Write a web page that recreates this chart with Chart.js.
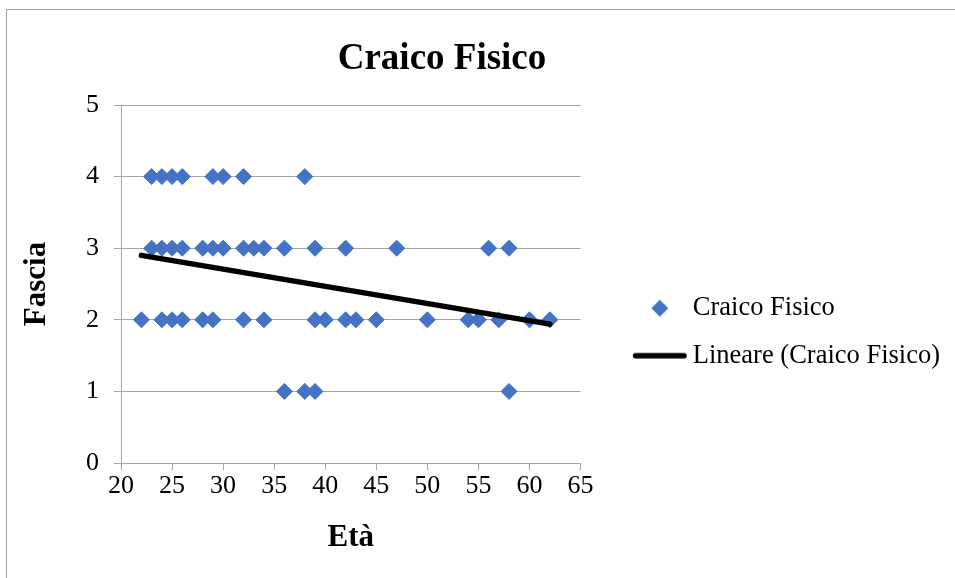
<!DOCTYPE html>
<html>
<head>
<meta charset="utf-8">
<script src="https://cdn.jsdelivr.net/npm/chart.js@4.4.0/dist/chart.umd.min.js"></script>
<style>
  html, body { margin: 0; padding: 0; background: #fff; }
</style>
</head>
<body>
<canvas id="myChart" width="955" height="578"></canvas>
<script>
// age of each person and the "fascia" they fall in
const eta = [
  23, 24, 25, 26, 29, 30, 32, 38,
  23, 24, 25, 26, 28, 29, 30, 32, 33, 34, 36, 39, 42, 47, 56, 58,
  22, 24, 25, 26, 28, 29, 32, 34, 39, 40, 42, 43, 45, 50, 54, 55, 57, 60, 62,
  36, 38, 39, 58
];
const fascia = [
  4, 4, 4, 4, 4, 4, 4, 4,
  3, 3, 3, 3, 3, 3, 3, 3, 3, 3, 3, 3, 3, 3, 3, 3,
  2, 2, 2, 2, 2, 2, 2, 2, 2, 2, 2, 2, 2, 2, 2, 2, 2, 2, 2,
  1, 1, 1, 1
];

// linear trend line (start and end)
const trendEta = [22, 62];
const trendFascia = [2.90, 1.94];

// axis ticks
const xTicks = [20, 25, 30, 35, 40, 45, 50, 55, 60, 65];
const yTicks = [0, 1, 2, 3, 4, 5];

const blue = '#4472C4';
const gridGrey = '#a6a6a6';
const serif = '"Liberation Serif", "Times New Roman", serif';

const legendFont = 26.5;
const legendBoxW = 78;
const legendPad = 21;

// legend icons: the box is centred in legendBoxW, the text starts fontSize/2 after it
function legendIcon(kind) {
  const half = legendBoxW / 2 + legendFont / 2 - 6;
  const c = document.createElement('canvas');
  c.width = Math.round(half * 2);
  c.height = 20;
  const g = c.getContext('2d');
  const mid = c.width / 2;
  const textAt = legendBoxW / 2 + legendFont / 2;
  if (kind === 'line') {
    g.strokeStyle = '#000';
    g.lineWidth = 5.5;
    g.lineCap = 'round';
    g.beginPath();
    g.moveTo(mid + textAt - 60 + 2.75, 10);
    g.lineTo(mid + textAt - 6 - 2.75, 10);
    g.stroke();
  } else {
    const cx = mid + textAt - 33;
    const r = 8.5;
    g.fillStyle = blue;
    g.beginPath();
    g.moveTo(cx - r, 10);
    g.lineTo(cx, 10 - r);
    g.lineTo(cx + r, 10);
    g.lineTo(cx, 10 + r);
    g.closePath();
    g.fill();
  }
  return c;
}
const diamondIcon = legendIcon('diamond');
const lineIcon = legendIcon('line');

const points = eta.map((x, i) => ({x: x, y: fascia[i]}));
const trend = trendEta.map((x, i) => ({x: x, y: trendFascia[i]}));

// white background, grey frame, and title / legend placement
const plugin = {
  id: 'frameAndPlacement',
  beforeDraw: (chart) => {
    const {ctx} = chart;
    ctx.save();
    ctx.fillStyle = '#fff';
    ctx.fillRect(0, 0, chart.width, chart.height);
    ctx.strokeStyle = '#a0a0a0';
    ctx.lineWidth = 1;
    ctx.strokeRect(6.5, 9.5, chart.width + 10, chart.height + 10);
    ctx.restore();
  },
  afterLayout: (chart) => {
    chart.titleBlock.left = 0;
    chart.titleBlock.right = 884;
    chart.legend.top += 86;
  }
};

Chart.defaults.font.family = serif;
Chart.defaults.color = '#000';

const config = {
  type: 'scatter',
  data: {
    datasets: [{
      label: 'Craico Fisico',
      data: points,
      pointStyle: 'rectRot',
      pointRadius: 8,
      pointHoverRadius: 8,
      backgroundColor: blue,
      borderColor: blue,
      borderWidth: 1,
      order: 1
    },
    {
      label: 'Lineare (Craico Fisico)',
      data: trend,
      showLine: true,
      borderColor: '#000',
      backgroundColor: '#000',
      borderWidth: 5.5,
      borderCapStyle: 'round',
      pointRadius: 0,
      pointHoverRadius: 0,
      order: 0
    }]
  },
  plugins: [plugin],
  options: {
    responsive: false,
    animation: false,
    layout: {
      padding: {top: 0, left: 0, right: 5, bottom: 0}
    },
    plugins: {
      tooltip: {enabled: false},
      title: {
        display: true,
        text: 'Craico Fisico',
        color: '#000',
        font: {size: 37, weight: 'bold'},
        padding: {top: 37, bottom: 23.6}
      },
      legend: {
        position: 'right',
        maxWidth: 420,
        labels: {
          usePointStyle: true,
          pointStyleWidth: legendBoxW,
          padding: legendPad,
          color: '#000',
          font: {size: legendFont},
          sort: (a, b) => a.datasetIndex - b.datasetIndex,
          generateLabels: (chart) => {
            const items = Chart.defaults.plugins.legend.labels.generateLabels(chart);
            items.forEach((item) => {
              item.pointStyle = item.datasetIndex === 0 ? diamondIcon : lineIcon;
            });
            return items;
          }
        }
      }
    },
    scales: {
      x: {
        type: 'linear',
        position: 'bottom',
        min: xTicks[0],
        max: xTicks[xTicks.length - 1],
        afterBuildTicks: (scale) => {
          scale.ticks = xTicks.map((v) => ({value: v}));
        },
        afterFit: (scale) => {
          scale.height = 115;
        },
        ticks: {
          font: {size: 26},
          color: '#000',
          padding: 1,
          maxRotation: 0
        },
        grid: {
          drawOnChartArea: false,
          color: gridGrey,
          tickLength: 7
        },
        border: {color: gridGrey},
        title: {
          display: true,
          text: 'Età',
          color: '#000',
          font: {size: 31, weight: 'bold'},
          padding: {top: 0, bottom: 21}
        }
      },
      y: {
        min: yTicks[0],
        max: yTicks[yTicks.length - 1],
        afterBuildTicks: (scale) => {
          scale.ticks = yTicks.map((v) => ({value: v}));
        },
        afterFit: (scale) => {
          scale.width = 121;
        },
        ticks: {
          font: {size: 26},
          color: '#000',
          padding: 15
        },
        grid: {
          color: gridGrey,
          tickLength: 7
        },
        border: {color: gridGrey},
        title: {
          display: true,
          text: 'Fascia',
          color: '#000',
          font: {size: 31, weight: 'bold'},
          padding: {top: 18, bottom: 0}
        }
      }
    }
  }
};

let myChart = new Chart(document.getElementById('myChart'), config);
</script>
</body>
</html>
